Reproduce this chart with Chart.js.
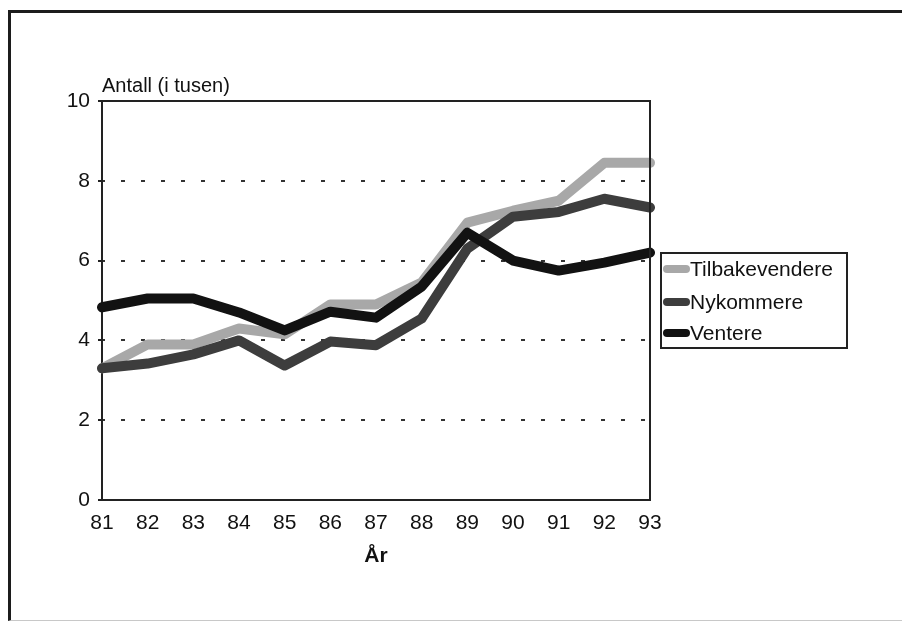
<!DOCTYPE html>
<html>
<head>
<meta charset="utf-8">
<script src="https://cdn.jsdelivr.net/npm/chart.js@4.4.0/dist/chart.umd.min.js"></script>
<style>
  html, body { margin: 0; padding: 0; background: #fff; }
  body { width: 902px; height: 623px; position: relative; overflow: hidden; }
  .ramme {
    position: absolute; left: 8px; top: 10px; width: 1000px; height: 607px;
    border: 3px solid #1c1c1c; border-right: none; border-bottom: 1px solid #c8c8c8;
  }
  #graf { position: absolute; left: 0; top: 0; }
</style>
</head>
<body>
<div class="ramme"></div>
<canvas id="graf" width="902" height="623"></canvas>
<script>
const aar = ['81', '82', '83', '84', '85', '86', '87', '88', '89', '90', '91', '92', '93'];
const tilbakevendere = [3.3, 3.9, 3.9, 4.3, 4.15, 4.9, 4.9, 5.45, 6.95, 7.25, 7.5, 8.45, 8.45];
const nykommere = [3.3, 3.42, 3.65, 4.0, 3.37, 3.97, 3.88, 4.55, 6.3, 7.1, 7.22, 7.55, 7.33];
const ventere = [4.83, 5.05, 5.05, 4.7, 4.25, 4.72, 4.57, 5.35, 6.7, 6.0, 5.75, 5.95, 6.2];

const skrift = "'Liberation Sans', Arial, Helvetica, sans-serif";
const tekstfarge = '#111';
const farger = { tilbake: '#a8a8a8', ny: '#3d3d3d', vent: '#121212' };

// tegner rammen rundt plottet, legenden og teksten over y-aksen
const ekstra = {
  id: 'ekstra',
  afterDraw(chart) {
    const ctx = chart.ctx;
    const a = chart.chartArea;
    ctx.save();
    ctx.strokeStyle = '#222';
    ctx.lineWidth = 2;
    ctx.beginPath();
    ctx.moveTo(a.left, a.top);
    ctx.lineTo(a.right, a.top);
    ctx.lineTo(a.right, a.bottom);
    ctx.stroke();

    ctx.fillStyle = tekstfarge;
    ctx.font = '20px ' + skrift;
    ctx.textBaseline = 'alphabetic';
    ctx.textAlign = 'left';
    ctx.fillText('Antall (i tusen)', a.left, a.top - 9);

    // legende
    ctx.lineWidth = 2;
    ctx.strokeStyle = '#222';
    ctx.strokeRect(661, 253, 186, 95);
    const rader = [
      { tekst: 'Tilbakevendere', farge: farger.tilbake, y: 269 },
      { tekst: 'Nykommere', farge: farger.ny, y: 302 },
      { tekst: 'Ventere', farge: farger.vent, y: 333 }
    ];
    ctx.font = '21px ' + skrift;
    ctx.textBaseline = 'middle';
    rader.forEach((r) => {
      ctx.strokeStyle = r.farge;
      ctx.lineWidth = 8;
      ctx.lineCap = 'round';
      ctx.beginPath();
      ctx.moveTo(667, r.y);
      ctx.lineTo(686, r.y);
      ctx.stroke();
      ctx.fillStyle = tekstfarge;
      ctx.fillText(r.tekst, 690, r.y + 1);
    });
    ctx.restore();
  }
};

const graf = new Chart(document.getElementById('graf'), {
  type: 'line',
  data: {
    labels: aar,
    datasets: [
      { label: 'Tilbakevendere', data: tilbakevendere, borderColor: farger.tilbake, order: 2 },
      { label: 'Nykommere', data: nykommere, borderColor: farger.ny, order: 1 },
      { label: 'Ventere', data: ventere, borderColor: farger.vent, order: 0 }
    ]
  },
  options: {
    responsive: false,
    animation: false,
    layout: { padding: { left: 0, top: 101, right: 252, bottom: 0 } },
    elements: {
      line: { borderWidth: 10, tension: 0, borderJoinStyle: 'round', borderCapStyle: 'round', fill: false },
      point: { radius: 0 }
    },
    plugins: {
      legend: { display: false },
      tooltip: { enabled: false }
    },
    scales: {
      x: {
        offset: false,
        grid: { display: false, drawTicks: false },
        border: { display: true, width: 2, color: '#222' },
        ticks: { color: tekstfarge, font: { family: skrift, size: 21 }, padding: 11, maxRotation: 0, autoSkip: false },
        title: { display: true, text: 'År', color: tekstfarge, font: { family: skrift, size: 21, weight: 'bold' }, padding: { top: 0, bottom: 54 } },
        afterFit(skala) { skala.height = 123; }
      },
      y: {
        min: 0,
        max: 10,
        ticks: { stepSize: 2, color: tekstfarge, font: { family: skrift, size: 21 }, padding: 8 },
        grid: {
          color: (c) => (c.tick && (c.tick.value === 0 || c.tick.value === 10)) ? 'rgba(0,0,0,0)' : '#333',
          lineWidth: 2,
          tickColor: '#222',
          tickLength: 4
        },
        border: { display: true, width: 2, color: '#222', dash: [4, 16], dashOffset: 2 },
        afterFit(skala) { skala.width = 102; }
      }
    }
  },
  plugins: [ekstra]
});
</script>
</body>
</html>
